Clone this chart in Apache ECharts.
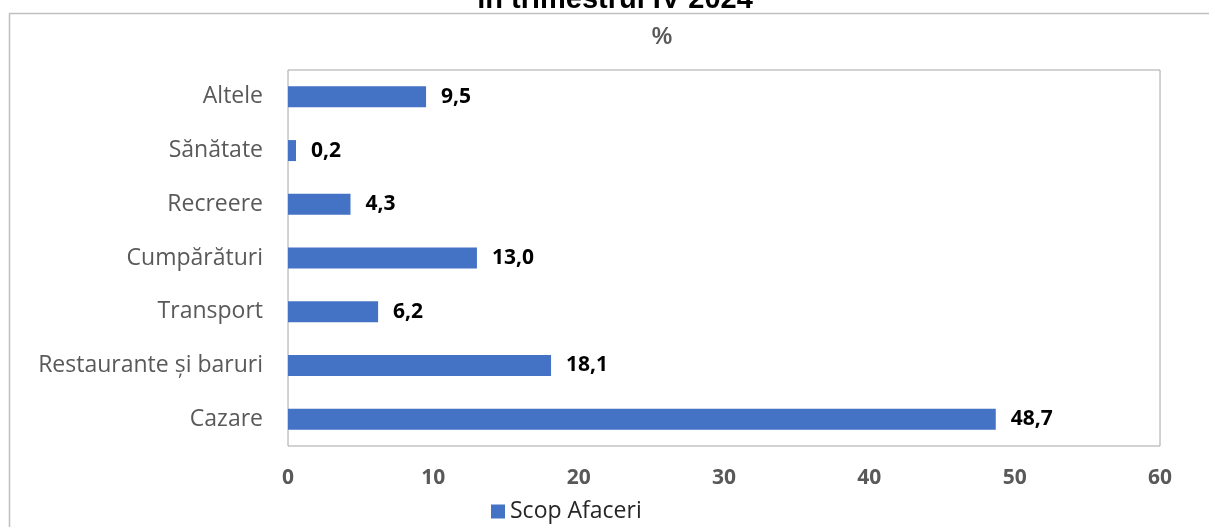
<!DOCTYPE html>
<html>
<head>
<meta charset="utf-8">
<script src="https://cdn.jsdelivr.net/npm/echarts@6/dist/echarts.min.js"></script>
<style>
  html, body { margin: 0; padding: 0; background: #fff; }
  #chart { width: 1209px; height: 527px; }
</style>
</head>
<body>
<div id="chart"></div>
<script>
// categories bottom to top, as the axis draws them
const categories = ['Cazare', 'Restaurante și baruri', 'Transport', 'Cumpărături', 'Recreere', 'Sănătate', 'Altele'];
const values = [48.7, 18.1, 6.2, 13.0, 4.3, 0.2, 9.5];
const seriesName = 'Scop Afaceri';

const chart = echarts.init(document.getElementById('chart'));

const option = {
    animation: false,
    textStyle: { fontFamily: 'Open Sans' },
    graphic: [{
        type: 'rect',
        shape: { x: 9.5, y: 13.5, width: 1220, height: 530 },
        style: { fill: 'none', stroke: '#bfbfbf', lineWidth: 1.5 },
        z: -1
    }, {
        type: 'text',
        x: 662,
        y: 26,
        style: { text: '%', font: 'bold 23px "Liberation Sans"', fill: '#595959', align: 'center' }
    }, {
        type: 'text',
        x: 615,
        y: -15,
        style: { text: 'în trimestrul IV 2024', font: 'bold 29px "Liberation Sans"', fill: '#000', align: 'center' }
    }],
    grid: {
        left: 288,
        right: 49,
        top: 70,
        bottom: 81,
        show: true,
        borderColor: '#a6a6a6',
        borderWidth: 1
    },
    legend: {
        bottom: -1,
        left: 486,
        itemWidth: 14,
        itemHeight: 14,
        icon: 'rect',
        itemGap: 4,
        textStyle: { fontSize: 23, color: '#262626', fontFamily: 'Open Sans' },
        data: [seriesName]
    },
    xAxis: {
        type: 'value',
        min: 0,
        max: 60,
        interval: 10,
        axisLine: { show: false },
        axisTick: { show: false },
        splitLine: { show: false },
        axisLabel: { color: '#595959', fontSize: 21, fontWeight: 'bold', margin: 22 }
    },
    yAxis: {
        type: 'category',
        data: categories,
        axisLine: { show: false },
        axisTick: { show: false },
        axisLabel: { color: '#595959', fontSize: 23, margin: 25, padding: [4, 0, 0, 0] }
    },
    series: [{
        name: seriesName,
        type: 'bar',
        data: values,
        barWidth: 21,
        barMinHeight: 8,
        itemStyle: { color: '#4472c4' },
        label: {
            show: true,
            position: 'right',
            distance: 15,
            color: '#000',
            fontSize: 21,
            fontWeight: 'bold',
            padding: [4, 0, 0, 0],
            formatter: function (p) { return p.value.toFixed(1).replace('.', ','); }
        }
    }]
};

chart.setOption(option);
</script>
</body>
</html>
